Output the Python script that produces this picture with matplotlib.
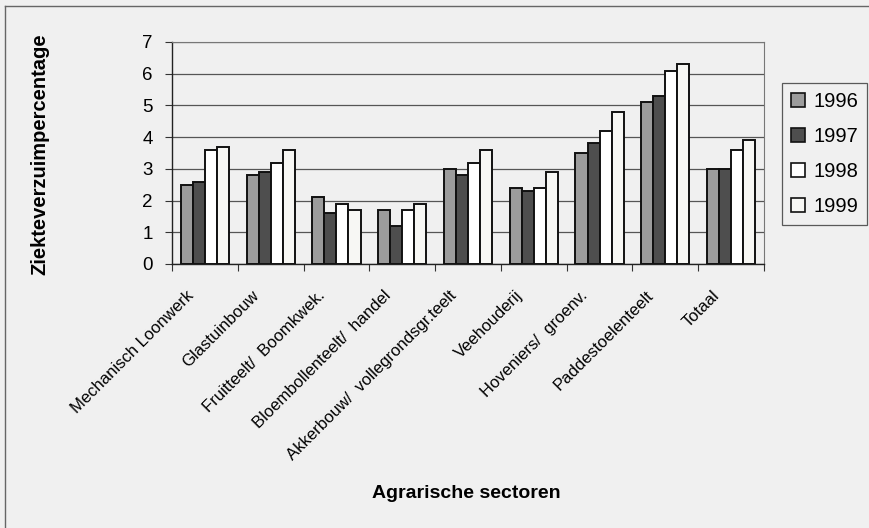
import matplotlib
matplotlib.use("Agg")
import matplotlib.pyplot as plt
import numpy as np
from matplotlib.lines import Line2D
from matplotlib.transforms import ScaledTranslation

plt.rcParams['font.family'] = ['Liberation Sans', 'DejaVu Sans']

sectors = [
    "Mechanisch Loonwerk",
    "Glastuinbouw",
    "Fruitteelt/  Boomkwek.",
    "Bloembollenteelt/  handel",
    "Akkerbouw/  vollegrondsgr.teelt",
    "Veehouderij",
    "Hoveniers/  groenv.",
    "Paddestoelenteelt",
    "Totaal",
]
years = ["1996", "1997", "1998", "1999"]
v1996 = [2.5, 2.8, 2.1, 1.7, 3.0, 2.4, 3.5, 5.1, 3.0]
v1997 = [2.6, 2.9, 1.6, 1.2, 2.8, 2.3, 3.8, 5.3, 3.0]
v1998 = [3.6, 3.2, 1.9, 1.7, 3.2, 2.4, 4.2, 6.1, 3.6]
v1999 = [3.7, 3.6, 1.7, 1.9, 3.6, 2.9, 4.8, 6.3, 3.9]
series = [v1996, v1997, v1998, v1999]
colors = ["#9c9c9c", "#4e4e4e", "#ffffff", "#f7f7f4"]

bg = "#f0f0f0"
fig = plt.figure(figsize=(8.69, 5.28), dpi=100, facecolor=bg)
ax = fig.add_axes([172 / 869, 1 - 264 / 528, (764 - 172) / 869, (264 - 42) / 528])
ax.set_facecolor(bg)

n = len(sectors)
x = np.arange(n)
bw = 0.183
offsets = (np.arange(4) - 1.5) * bw
for vals, off, col, lab in zip(series, offsets, colors, years):
    ax.bar(x + off, vals, width=bw, color=col, edgecolor="#111111",
           linewidth=1.4, label=lab, zorder=3)

ax.set_xlim(-0.5, n - 0.5)
ax.set_ylim(0, 7)
ax.set_yticks(range(0, 8))
ax.tick_params(axis="y", labelsize=13.5, length=5, width=0.8, color="#333333", pad=9)
ax.yaxis.grid(True, color="#555555", linewidth=0.9, zorder=0)
ax.set_axisbelow(True)

# category labels centred on groups, tick marks on group boundaries
ax.set_xticks(x)
ax.set_xticklabels(sectors, rotation=45, ha="right", va="center",
                   rotation_mode="anchor", fontsize=12)
ax.tick_params(axis="x", length=0, pad=0)
shift = ScaledTranslation(-14 / 100, -29 / 100, fig.dpi_scale_trans)
for lbl in ax.get_xticklabels():
    lbl.set_transform(lbl.get_transform() + shift)
ax.set_xticks(np.arange(-0.5, n), minor=True)
ax.tick_params(axis="x", which="minor", length=5, width=0.8, color="#333333")

for side in ["left", "bottom"]:
    ax.spines[side].set_color("#222222")
    ax.spines[side].set_linewidth(1.0)
for side in ["top", "right"]:
    ax.spines[side].set_color("#777777")
    ax.spines[side].set_linewidth(0.8)

fig.text(40 / 869, 1 - 154 / 528, "Ziekteverzuimpercentage", rotation=90,
         ha="center", va="center", fontsize=14.5, fontweight="bold")
fig.text(466 / 869, 1 - 493 / 528, "Agrarische sectoren",
         ha="center", va="center", fontsize=14, fontweight="bold")

# legend
leg = fig.legend(loc="upper left", bbox_to_anchor=(782 / 869, 1 - 83 / 528),
                 fontsize=14.5, frameon=True, fancybox=False, edgecolor="#333333",
                 facecolor=bg, handlelength=0.7, handleheight=0.7,
                 handletextpad=0.4, labelspacing=0.8, borderpad=0.45,
                 borderaxespad=0)
leg.get_frame().set_linewidth(0.9)
for h in leg.legend_handles:
    h.set_linewidth(1.2)

# outer frame of the chart area
fig.add_artist(Line2D([5 / 869, 5 / 869], [0, 1 - 6 / 528],
                      transform=fig.transFigure, color="#666666", linewidth=1.0))
fig.add_artist(Line2D([5 / 869, 1], [1 - 6 / 528, 1 - 6 / 528],
                      transform=fig.transFigure, color="#666666", linewidth=1.0))

fig.savefig("out.png", dpi=100, facecolor=bg)
